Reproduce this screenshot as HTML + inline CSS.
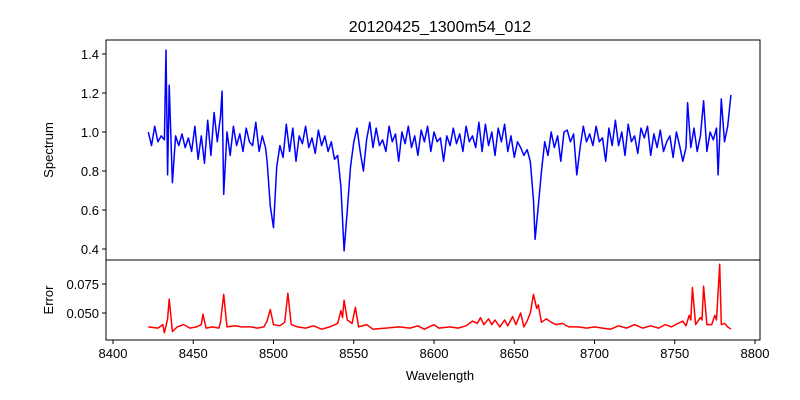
<!DOCTYPE html>
<html><head><meta charset="utf-8"><style>
body{margin:0;background:#fff}
svg{display:block;font-family:"Liberation Sans","DejaVu Sans",sans-serif}
</style></head><body>
<svg id="chart" width="800" height="400" viewBox="0 0 800 400">
<rect width="800" height="400" fill="#fff"/>
<text x="440" y="32" font-size="16" text-anchor="middle">20120425_1300m54_012</text>
<text transform="translate(53,150) rotate(-90)" font-size="13" text-anchor="middle">Spectrum</text>
<text transform="translate(53,300) rotate(-90)" font-size="13" text-anchor="middle">Error</text>
<text x="440" y="380" font-size="13" text-anchor="middle">Wavelength</text>
<g id="g"></g>
</svg>
<script>
const fluxWl=[8422,8424,8426,8428,8430,8432,8433,8434,8435,8437,8439,8441,8443,8445,8447,8449,8451,8453,8455,8457,8459,8461,8463,8465,8467,8468,8469,8471,8473,8475,8477,8479,8481,8483,8485,8487,8489,8491,8493,8495,8496,8498,8500,8502,8504,8506,8508,8510,8512,8514,8516,8518,8520,8522,8524,8526,8528,8530,8532,8534,8536,8538,8540,8542,8544,8546,8548,8550,8552,8554,8556,8558,8560,8562,8564,8566,8568,8570,8572,8574,8576,8578,8580,8582,8584,8586,8588,8590,8592,8594,8596,8598,8600,8602,8604,8606,8608,8610,8612,8614,8616,8618,8620,8622,8624,8626,8628,8630,8632,8634,8636,8638,8640,8642,8644,8646,8648,8650,8652,8654,8656,8658,8660,8662,8663,8665,8667,8669,8671,8673,8675,8677,8679,8681,8683,8685,8687,8689,8691,8693,8695,8697,8699,8701,8703,8705,8707,8709,8711,8713,8715,8717,8719,8721,8723,8725,8727,8729,8731,8733,8735,8737,8739,8741,8743,8745,8747,8749,8751,8753,8755,8757,8758,8760,8762,8764,8766,8768,8770,8772,8774,8776,8777,8779,8781,8783,8785];
const fluxVal=[1.00,0.93,1.03,0.95,0.98,0.96,1.42,0.78,1.24,0.74,0.98,0.93,0.99,0.92,0.97,0.90,1.03,0.86,0.98,0.84,1.06,0.88,1.10,0.95,1.08,1.21,0.68,1.00,0.88,1.03,0.93,0.99,0.90,1.02,0.95,0.93,1.05,0.90,0.98,0.92,0.85,0.62,0.51,0.82,0.93,0.87,1.04,0.90,1.02,0.85,0.98,0.94,1.03,0.92,0.97,0.89,1.01,0.93,0.98,0.90,0.95,0.86,0.88,0.72,0.39,0.60,0.82,0.95,1.02,0.90,0.80,0.96,1.05,0.92,1.02,0.93,0.96,0.90,1.03,0.95,0.99,0.85,1.00,0.94,1.03,0.92,0.98,0.88,1.01,0.95,1.03,0.90,1.00,0.95,0.97,0.85,0.98,0.93,1.02,0.94,0.99,0.90,1.03,0.95,0.98,0.92,1.05,0.90,1.04,0.93,1.00,0.88,1.02,0.95,1.04,0.90,0.98,0.87,0.95,0.92,0.88,0.91,0.85,0.65,0.45,0.62,0.80,0.95,0.88,1.00,0.92,0.98,0.85,1.00,1.01,0.95,0.99,0.78,0.92,1.03,0.95,0.99,0.93,1.03,0.95,0.97,0.85,1.02,0.93,1.06,0.93,1.00,0.88,1.04,0.95,0.98,0.89,1.02,0.97,1.03,0.88,0.99,0.92,1.01,0.90,0.95,0.98,0.87,1.00,0.93,0.85,0.92,1.15,0.92,1.02,0.90,0.98,1.16,0.90,1.00,0.96,1.02,0.78,1.17,0.95,1.03,1.19];
const errWl=[8422,8428,8431,8432,8434,8435,8437,8440,8444,8448,8452,8455,8456,8458,8462,8466,8467,8469,8471,8476,8480,8486,8490,8494,8496,8498,8500,8504,8507,8509,8511,8515,8520,8525,8530,8535,8540,8542,8543,8544,8546,8549,8551,8553,8558,8562,8570,8578,8585,8590,8594,8600,8603,8610,8615,8620,8624,8627,8629,8631,8634,8636,8638,8641,8644,8646,8649,8651,8654,8656,8658,8660,8662,8664,8665,8667,8670,8673,8676,8680,8684,8690,8695,8700,8705,8710,8715,8720,8725,8730,8735,8740,8744,8748,8752,8755,8757,8759,8760,8761,8763,8766,8767,8768,8770,8773,8775,8776,8778,8779,8781,8783,8785];
const errVal=[.038,.037,.040,.033,.045,.062,.034,.038,.040,.037,.038,.040,.049,.037,.038,.037,.042,.066,.038,.039,.038,.038,.037,.038,.043,.053,.040,.039,.042,.067,.040,.038,.037,.039,.036,.038,.041,.052,.046,.061,.044,.041,.055,.038,.040,.036,.037,.038,.037,.039,.036,.040,.037,.038,.037,.039,.043,.041,.046,.040,.045,.040,.044,.038,.044,.039,.047,.040,.050,.038,.043,.050,.066,.054,.057,.042,.045,.042,.040,.041,.038,.038,.037,.038,.037,.036,.039,.037,.040,.037,.039,.037,.040,.038,.041,.043,.039,.048,.044,.072,.040,.046,.044,.073,.040,.040,.048,.044,.092,.040,.041,.038,.036];
const xTicks=[8400,8450,8500,8550,8600,8650,8700,8750,8800];
const topTicks=[0.4,0.6,0.8,1.0,1.2,1.4];
const botTicks=[0.050,0.075];

const NS='http://www.w3.org/2000/svg';
const g=document.getElementById('g');
const X=v=>113+(v-8400)*642/400;
const Yt=v=>249-(v-0.4)*195;
const Yb=v=>313-(v-0.05)*1160;
function mk(t,a){const e=document.createElementNS(NS,t);for(const k in a)e.setAttribute(k,a[k]);g.appendChild(e);return e;}
function path(xs,ys,fy,col,name){
  let d='';xs.forEach((x,i)=>{d+=(i?'L':'M')+X(x).toFixed(1)+','+fy(ys[i]).toFixed(1);});
  const p=mk('path',{d:d,fill:'none',stroke:col,'stroke-width':1.5,'stroke-linejoin':'round'});
  
  
}
path(fluxWl,fluxVal,Yt,'#0000ff','spectrum-line');
path(errWl,errVal,Yb,'#ff0000','error-line');
const f1=mk('rect',{x:106,y:40,width:654,height:220,fill:'none',stroke:'#000','stroke-width':1});


const f2=mk('rect',{x:106,y:260,width:654,height:80,fill:'none',stroke:'#000','stroke-width':1});


xTicks.forEach(v=>{
  mk('line',{x1:X(v),x2:X(v),y1:340,y2:344,stroke:'#000'});
  const t=mk('text',{x:X(v),y:358,'font-size':13,'text-anchor':'middle'});t.textContent=v;
  
  
});
topTicks.forEach(v=>{
  mk('line',{x1:102,x2:106,y1:Yt(v),y2:Yt(v),stroke:'#000'});
  const t=mk('text',{x:99,y:Yt(v)+5,'font-size':13,'text-anchor':'end'});t.textContent=v.toFixed(1);
  
  
});
botTicks.forEach(v=>{
  mk('line',{x1:102,x2:106,y1:Yb(v),y2:Yb(v),stroke:'#000'});
  const t=mk('text',{x:99,y:Yb(v)+5,'font-size':13,'text-anchor':'end'});t.textContent=v.toFixed(3);
  
  
});
</script>
</body></html>
